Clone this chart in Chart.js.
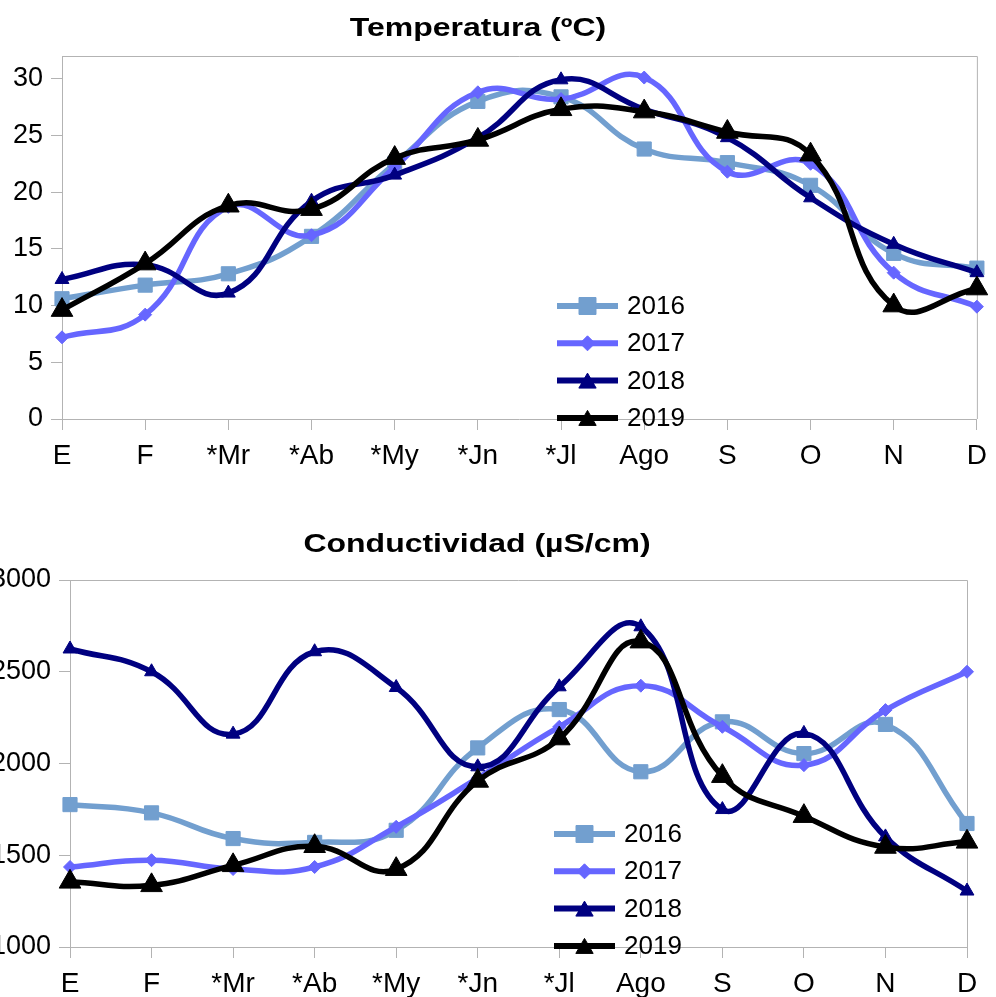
<!DOCTYPE html>
<html>
<head>
<meta charset="utf-8">
<script src="https://cdn.jsdelivr.net/npm/chart.js@4.4.1/dist/chart.umd.min.js"></script>
<style>
  html, body { margin: 0; padding: 0; background: #fff; }
  body { width: 996px; height: 997px; position: relative; overflow: hidden; }
  canvas { position: absolute; left: 0; }
  #tempChart { top: 0; }
  #condChart { top: 490px; }
</style>
</head>
<body>
<canvas id="tempChart" width="996" height="490"></canvas>
<canvas id="condChart" width="996" height="507"></canvas>
<script>
const months = ['E', 'F', '*Mr', '*Ab', '*My', '*Jn', '*Jl', 'Ago', 'S', 'O', 'N', 'D'];
const years = ['2016', '2017', '2018', '2019'];

// Temperatura (ºC)
const temp2016 = [10.6, 11.8, 12.8, 16.1, 22.5, 28.0, 28.4, 23.8, 22.6, 20.6, 14.6, 13.3];
const temp2017 = [7.2, 9.2, 18.7, 16.2, 22.2, 28.8, 28.2, 30.1, 21.8, 22.5, 12.9, 9.9];
const temp2018 = [12.3, 13.6, 11.1, 19.2, 21.5, 24.8, 29.9, 27.3, 24.8, 19.5, 15.4, 12.9];
const temp2019 = [9.6, 13.7, 18.8, 18.5, 23.0, 24.6, 27.3, 27.1, 25.3, 23.3, 10.0, 11.5];

// Conductividad (µS/cm)
const cond2016 = [1776, 1731, 1591, 1570, 1636, 2085, 2294, 1955, 2227, 2054, 2213, 1673];
const cond2017 = [1436, 1473, 1425, 1436, 1655, 1920, 2200, 2424, 2200, 1991, 2291, 2500];
const cond2018 = [2624, 2500, 2160, 2609, 2414, 1982, 2418, 2745, 1749, 2164, 1600, 1305];
const cond2019 = [1355, 1336, 1445, 1549, 1424, 1905, 2136, 2664, 1931, 1713, 1545, 1573];

const tempTicks = [0, 5, 10, 15, 20, 25, 30];
const condTicks = [1000, 1500, 2000, 2500, 3000];

const FONT = '"Liberation Sans", Arial, sans-serif';
const AXIS_GRAY = '#b3b3b3';

// per-year look: colour, marker and marker sizes (chart / legend)
const seriesStyle = [
  { color: '#729fcf', point: 'rect', r: 10, lr: 12 },
  { color: '#6666ff', point: 'rectRot', r: 6.5, lr: 7.5 },
  { color: '#000080', point: 'triangle', r: 8, lr: 10 },
  { color: '#000000', point: 'triangle', r: 12.5, lr: 10 }
];

// frame (top + right edges) and stretched bold title
const framePlugin = {
  id: 'frameTitle',
  beforeDatasetsDraw(chart, args, opts) {
    const { ctx, chartArea: a } = chart;
    ctx.save();
    ctx.strokeStyle = AXIS_GRAY;
    ctx.lineWidth = 1;
    ctx.beginPath();
    ctx.moveTo(a.left, a.top + 0.5);
    ctx.lineTo(a.right + 0.5, a.top + 0.5);
    ctx.lineTo(a.right + 0.5, a.bottom);
    ctx.stroke();
    ctx.restore();
  },
  afterDraw(chart, args, opts) {
    const ctx = chart.ctx;
    ctx.save();
    ctx.fillStyle = '#000';
    ctx.font = 'bold 26px ' + FONT;
    ctx.textAlign = 'center';
    ctx.textBaseline = 'alphabetic';
    ctx.translate(opts.x, opts.y);
    ctx.scale(1.23, 1);
    ctx.fillText(opts.text, 0, 0);
    ctx.restore();
  }
};

// legend drawn inside the plot area
const legendPlugin = {
  id: 'innerLegend',
  afterDraw(chart, args, opts) {
    const ctx = chart.ctx;
    ctx.save();
    chart.data.datasets.forEach((ds, i) => {
      const st = seriesStyle[i];
      const y = opts.y + i * 37.3;
      ctx.strokeStyle = st.color;
      ctx.lineWidth = 6;
      ctx.beginPath();
      ctx.moveTo(opts.x, y);
      ctx.lineTo(opts.x + 61, y);
      ctx.stroke();
      ctx.fillStyle = st.color;
      ctx.strokeStyle = st.color;
      ctx.lineWidth = 1;
      const py = st.point === 'triangle' ? y + st.lr * 0.25 : y;
      Chart.helpers.drawPoint(ctx, { pointStyle: st.point, radius: st.lr, rotation: 0, borderWidth: 1 }, opts.x + 30.5, py);
      ctx.fillStyle = '#000';
      ctx.font = '26px ' + FONT;
      ctx.textAlign = 'left';
      ctx.textBaseline = 'middle';
      ctx.fillText(ds.label, opts.x + 70, y + 1);
    });
    ctx.restore();
  }
};

function makeChart(canvasId, values, cfg) {
  const datasets = values.map((vals, i) => {
    const st = seriesStyle[i];
    return {
      label: years[i],
      data: vals,
      borderColor: st.color,
      backgroundColor: st.color,
      borderWidth: 5.5,
      tension: 0.45,
      pointStyle: st.point,
      pointRadius: st.r,
      pointBorderWidth: 1,
      pointBorderColor: st.color,
      pointBackgroundColor: st.color,
      order: values.length - i
    };
  });

  return new Chart(document.getElementById(canvasId), {
    type: 'line',
    data: { labels: months, datasets: datasets },
    options: {
      responsive: false,
      animation: false,
      events: [],
      layout: { padding: { top: cfg.top, right: cfg.right, bottom: 0, left: 0 } },
      scales: {
        x: {
          offset: false,
          grid: { display: true, drawOnChartArea: false, drawTicks: true, tickLength: 11, color: AXIS_GRAY },
          border: { display: true, color: AXIS_GRAY },
          ticks: { color: '#000', font: { family: FONT, size: 28 }, padding: 9, maxRotation: 0, autoSkip: false },
          afterFit: s => { s.height = cfg.xHeight; }
        },
        y: {
          min: cfg.ticks[0],
          max: cfg.max,
          grid: { display: true, drawOnChartArea: false, drawTicks: true, tickLength: 11, color: AXIS_GRAY },
          border: { display: true, color: AXIS_GRAY },
          ticks: {
            color: '#000',
            font: { family: FONT, size: 27 },
            padding: 8,
            stepSize: cfg.ticks[1] - cfg.ticks[0],
            callback: v => String(v)
          },
          afterBuildTicks: s => { s.ticks = cfg.ticks.map(v => ({ value: v })); },
          afterFit: s => { s.width = cfg.yWidth; }
        }
      },
      plugins: {
        legend: { display: false },
        title: { display: false },
        tooltip: { enabled: false },
        frameTitle: cfg.title,
        innerLegend: cfg.legend
      }
    },
    plugins: [framePlugin, legendPlugin]
  });
}

makeChart('tempChart', [temp2016, temp2017, temp2018, temp2019], {
  ticks: tempTicks, max: 32,
  top: 56, right: 17, xHeight: 71, yWidth: 62,
  title: { text: 'Temperatura (ºC)', x: 478, y: 36 },
  legend: { x: 557, y: 306 }
});

makeChart('condChart', [cond2016, cond2017, cond2018, cond2019], {
  ticks: condTicks, max: 3000,
  top: 90, right: 29, xHeight: 50, yWidth: 70,
  title: { text: 'Conductividad (µS/cm)', x: 477, y: 62 },
  legend: { x: 554, y: 344 }
});
</script>
</body>
</html>
